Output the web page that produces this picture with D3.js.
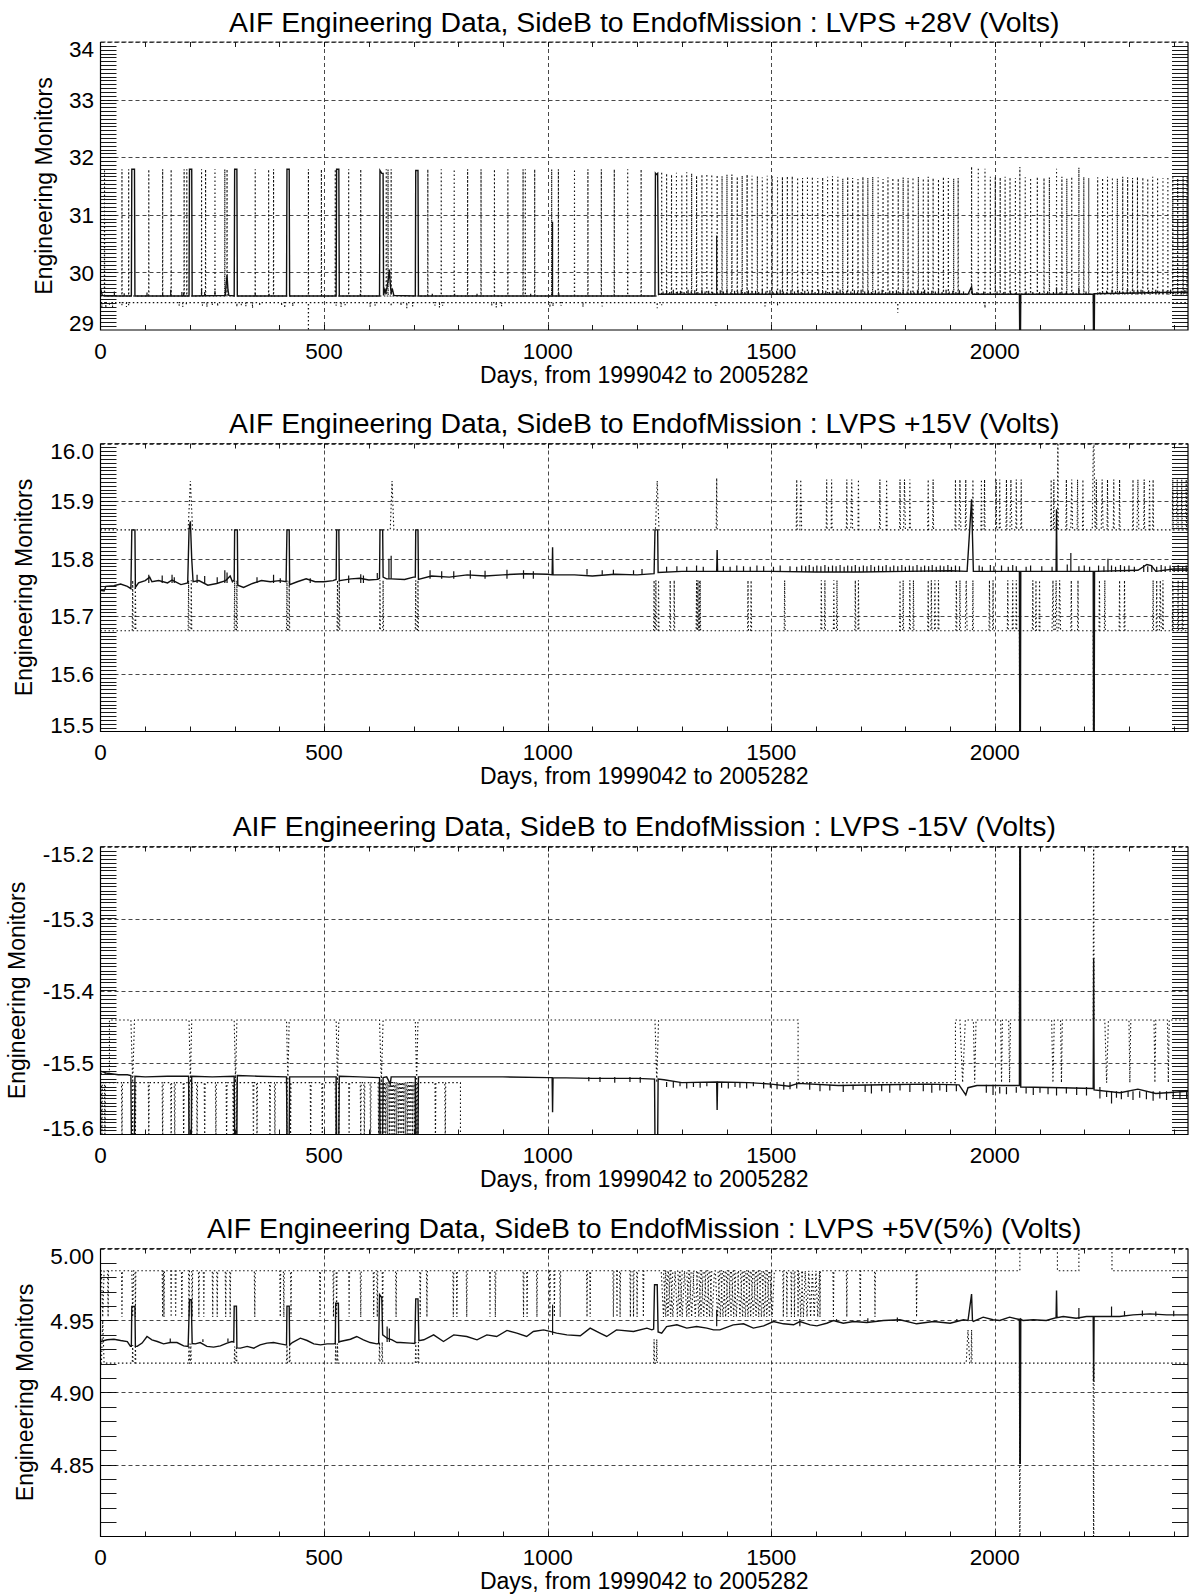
<!DOCTYPE html>
<html><head><meta charset="utf-8">
<script src="https://cdn.jsdelivr.net/npm/d3@7"></script>
<style>
body{margin:0;background:#fff;}
svg text{font-family:"Liberation Sans",Arial,Helvetica,sans-serif;fill:#000;}
</style></head><body>
<svg id="c" width="1193" height="1596"></svg>
<script>
// ---------------- DATA ----------------
const xDomain = [0, 2432];
const xTickVals = [0, 500, 1000, 1500, 2000];
const xLabel = "Days, from 1999042 to 2005282";
const yLabel = "Engineering Monitors";
const titlePrefix = "AIF Engineering Data, SideB to EndofMission : ";
const titles = ["LVPS +28V (Volts)", "LVPS +15V (Volts)", "LVPS -15V (Volts)", "LVPS +5V(5%) (Volts)"];
const yDomains = [[29, 34], [15.5, 16.0], [-15.6, -15.2], [4.80, 5.00]];
const yTickVals = [[29, 30, 31, 32, 33, 34], [15.5, 15.6, 15.7, 15.8, 15.9, 16.0], [-15.6, -15.5, -15.4, -15.3, -15.2], [4.85, 4.90, 4.95, 5.00]];
const yTickLabels = [["29", "30", "31", "32", "33", "34"], ["15.5", "15.6", "15.7", "15.8", "15.9", "16.0"], ["-15.6", "-15.5", "-15.4", "-15.3", "-15.2"], ["4.85", "4.90", "4.95", "5.00"]];
const yMinorCounts = [75, 75, 72, 20];   // number of minor intervals over the full y range

// ---- Panel 1: LVPS +28V ----
const p28Mean = [[0,29.72],[4,29.6],[10,29.59],[69,29.59],[70,31.79],[76,31.79],[77,29.59],[198,29.59],[199,31.79],[204,31.79],[205,29.59],[279,29.6],[281,29.8],[283,29.95],[285,29.7],[287,29.6],[299,29.59],[300,31.79],[305,31.79],[306,29.59],[416,29.59],[417,31.79],[422,31.79],[423,29.59],[527,29.59],[528,31.79],[533,31.79],[534,29.59],[624,29.59],[625,31.77],[629,31.72],[632,31.72],[633,29.6],[636,29.7],[638,29.65],[641,29.75],[644,29.9],[646,30.05],[648,29.8],[650,29.65],[653,29.7],[656,29.6],[704,29.59],[705,31.77],[710,31.77],[711,29.59],[1240,29.59],[1241,31.72],[1243,31.7],[1246,31.72],[1248,29.62],[1940,29.62],[1946,29.72],[1948,29.75],[1950,29.62],[2055,29.62],[2056,28.5],[2057,28.5],[2058,29.62],[2220,29.62],[2221,28.5],[2222,28.5],[2223,29.63],[2432,29.66]];
const p28SpikeBase = [[0,29.59],[1248,29.625]];
const p28Spikes = [[31,29.67],[53,29.64],[104,29.65],[139,29.64],[157,29.7],[182,29.66],[186,29.65],[226,29.72],[233,29.66],[256,29.68],[346,29.64],[377,29.63],[581,29.63],[742,29.63],[792,29.63],[842,29.63],[962,29.63],[1011,30.88],[1025,29.64],[1378,30.64],
[1258,29.67],[1266,29.69],[1273,29.66],[1281,29.7],[1290,29.67],[1297,29.68],[1305,29.66],[1314,29.7],[1321,29.67],[1329,29.69],[1336,29.66],[1345,29.7],[1352,29.67],[1360,29.68],[1369,29.66],[1386,29.69],[1393,29.67],[1401,29.7],[1410,29.66],[1418,29.68],[1425,29.67],[1433,29.7],[1441,29.66],[1449,29.69],[1457,29.67],[1465,29.68],[1472,29.66],[1480,29.7],[1488,29.67],[1497,29.69],[1504,29.66],[1512,29.68],[1520,29.7],[1527,29.67],[1535,29.66],[1544,29.69],[1552,29.67],[1560,29.7],[1567,29.66],[1575,29.68],[1583,29.67],[1591,29.69],[1598,29.66],[1606,29.7],[1615,29.67],[1622,29.68],[1630,29.66],[1638,29.69],[1646,29.67],[1654,29.7],[1661,29.66],[1669,29.68],[1678,29.67],[1686,29.69],[1693,29.66],[1701,29.7],[1709,29.67],[1717,29.68],[1724,29.66],[1733,29.69],[1741,29.67],[1748,29.7],[1756,29.66],[1765,29.68],[1772,29.67],[1780,29.69],[1788,29.66],[1795,29.7],[1804,29.67],[1812,29.68],[1819,29.66],[1827,29.69],[1836,29.67],[1843,29.7],[1851,29.66],[1859,29.68],[1867,29.67],[1874,29.69],[1882,29.66],[1891,29.7],[1898,29.67],[1906,29.68],[1913,29.66],[1921,29.69],[1930,29.67],[1960,29.66],[1975,29.67],[1990,29.66],[2005,29.67],[2020,29.66],[2035,29.68],[2048,29.66],[2070,29.67],[2085,29.66],[2100,29.66],[2118,29.67],[2131,29.66],[2138,29.74],[2146,29.66],[2160,29.67],[2175,29.66],[2188,29.72],[2204,29.67],[2235,29.66],[2250,29.68],[2262,29.7],[2270,29.67],[2279,29.68],[2287,29.66],[2296,29.7],[2303,29.67],[2311,29.69],[2320,29.68],[2327,29.7],[2335,29.67],[2344,29.69],[2352,29.68],[2360,29.7],[2368,29.67],[2376,29.69],[2385,29.68],[2393,29.7],[2400,29.67],[2409,29.69],[2417,29.68],[2425,29.7]];
const p28MaxBase = [[0,29.59],[1248,29.625]];
const p28MaxExc = [[9,31.79],[48,31.79],[63,31.79],[108,31.79],[139,31.79],[158,31.79],[187,31.79],[193,31.79],[226,31.79],[235,31.79],[256,31.79],[278,31.79],[283,31.79],[346,31.79],[376,31.79],[387,31.79],[465,31.79],[494,31.79],[525,31.79],[555,31.79],[582,31.79],[639,31.79],[643,31.79],[650,31.79],[732,31.79],[762,31.79],[791,31.79],[821,31.79],[851,31.79],[881,31.79],[911,31.79],[945,31.79],[950,31.79],[971,31.79],[1009,31.79],[1024,31.79],[1060,31.79],[1090,31.79],[1120,31.79],[1149,31.79],[1179,31.79],[1209,31.79],
[1255,31.75],[1266,31.72],[1277,31.7],[1288,31.73],[1300,31.7],[1311,31.74],[1322,31.72],[1333,31.68],[1345,31.7],[1356,31.71],[1367,31.7],[1379,31.69],[1390,31.67],[1401,31.7],[1412,31.7],[1424,31.66],[1435,31.68],[1446,31.7],[1457,31.68],[1469,31.67],[1480,31.65],[1491,31.68],[1502,31.67],[1514,31.65],[1525,31.66],[1536,31.67],[1547,31.67],[1559,31.65],[1570,31.64],[1581,31.67],[1592,31.66],[1604,31.64],[1615,31.65],[1626,31.66],[1637,31.67],[1649,31.66],[1660,31.63],[1671,31.66],[1682,31.64],[1694,31.62],[1705,31.66],[1716,31.64],[1727,31.66],[1739,31.65],[1750,31.62],[1761,31.65],[1772,31.64],[1784,31.63],[1795,31.65],[1806,31.64],[1817,31.65],[1829,31.66],[1840,31.63],[1851,31.66],[1862,31.64],[1874,31.62],[1885,31.66],[1896,31.64],[1908,31.63],[1918,31.64],[1948,31.84],[1963,31.82],[1978,31.8],[1990,31.66],[2001,31.66],[2012,31.65],[2023,31.66],[2034,31.65],[2046,31.64],[2056,31.83],[2068,31.65],[2080,31.64],[2095,31.66],[2110,31.64],[2122,31.65],[2138,31.8],[2150,31.66],[2161,31.63],[2172,31.66],[2188,31.82],[2199,31.66],[2210,31.64],[2230,31.65],[2241,31.64],[2252,31.66],[2263,31.65],[2274,31.63],[2286,31.66],[2297,31.65],[2308,31.64],[2319,31.66],[2331,31.65],[2342,31.63],[2353,31.66],[2364,31.65],[2376,31.64],[2387,31.66],[2398,31.65],[2409,31.63],[2421,31.66],[2430,31.65]];
const p28MinBase = [[0,29.475]];
const p28MinExc = [[3,29.4],[12,29.38],[20,29.42],[27,29.4],[48,29.43],[58,29.4],[63,29.43],[176,29.42],[184,29.4],[192,29.43],[228,29.42],[238,29.4],[250,29.43],[262,29.41],[305,29.4],[315,29.43],[325,29.41],[340,29.38],[356,29.42],[405,29.42],[412,29.38],[430,29.41],[465,28.85],[527,29.42],[538,29.4],[547,29.43],[603,29.4],[614,29.42],[650,29.41],[672,29.42],[685,29.38],[698,29.41],[748,29.42],[758,29.39],[765,29.42],[875,29.42],[885,29.39],[897,29.41],[1005,29.39],[1012,29.41],[1030,29.42],[1079,29.4],[1122,29.41],[1245,29.38],[1255,29.43],[1376,29.42],[1486,29.41],[1514,29.42],[1783,29.3],[1978,29.38]];

// ---- Panel 2: LVPS +15V ----
const p15Mean = [[0,15.745],[8,15.744],[12,15.752],[30,15.753],[45,15.756],[60,15.752],[68,15.748],[70,15.85],[77,15.85],[78,15.75],[85,15.758],[100,15.762],[110,15.768],[115,15.76],[130,15.762],[150,15.758],[160,15.763],[180,15.755],[195,15.758],[198,15.85],[201,15.865],[204,15.8],[207,15.76],[220,15.762],[240,15.754],[260,15.757],[280,15.762],[290,15.77],[295,15.76],[299,15.763],[300,15.85],[306,15.85],[307,15.754],[320,15.75],[340,15.757],[360,15.762],[380,15.76],[400,15.762],[415,15.76],[417,15.85],[422,15.85],[423,15.755],[440,15.76],[460,15.765],[480,15.76],[500,15.76],[520,15.762],[527,15.764],[528,15.85],[533,15.85],[534,15.762],[560,15.765],[580,15.766],[600,15.763],[620,15.764],[624,15.766],[625,15.85],[631,15.85],[632,15.768],[640,15.765],[650,15.765],[680,15.764],[700,15.768],[704,15.768],[705,15.85],[710,15.85],[711,15.764],[740,15.77],[780,15.768],[820,15.772],[860,15.77],[900,15.772],[950,15.774],[1000,15.773],[1010,15.772],[1011,15.82],[1012,15.772],[1060,15.772],[1100,15.77],[1150,15.773],[1200,15.772],[1238,15.774],[1240,15.85],[1246,15.85],[1247,15.776],[1300,15.778],[1378,15.778],[1379,15.815],[1380,15.778],[1500,15.778],[1600,15.777],[1700,15.777],[1800,15.778],[1900,15.779],[1938,15.778],[1948,15.903],[1952,15.778],[2055,15.778],[2056,15.4],[2057,15.4],[2058,15.778],[2137,15.778],[2138,15.886],[2139,15.778],[2220,15.778],[2221,15.4],[2222,15.4],[2223,15.778],[2320,15.78],[2340,15.79],[2350,15.788],[2360,15.778],[2400,15.782],[2432,15.782]];
const p15SpikeBase = [[0,15.758],[600,15.765],[1000,15.772],[1250,15.777]];
const p15Spikes = [[108,15.772],[138,15.771],[160,15.772],[165,15.768],[216,15.772],[233,15.77],[261,15.768],[278,15.78],[283,15.776],[350,15.768],[387,15.772],[402,15.766],[469,15.766],[555,15.771],[582,15.773],[588,15.771],[619,15.775],[645,15.8],[650,15.805],[737,15.78],[763,15.778],[790,15.778],[827,15.78],[860,15.779],[909,15.781],[946,15.78],[968,15.778],[1088,15.782],[1122,15.78],[1147,15.781],[1192,15.78],[1211,15.782],
[1266,15.786],[1289,15.787],[1311,15.786],[1333,15.788],[1348,15.786],[1393,15.787],[1408,15.786],[1423,15.788],[1438,15.787],[1453,15.786],[1468,15.788],[1483,15.787],[1505,15.786],[1520,15.788],[1542,15.787],[1557,15.786],[1568,15.788],[1577,15.787],[1585,15.789],[1594,15.786],[1602,15.788],[1611,15.787],[1620,15.789],[1628,15.786],[1637,15.788],[1645,15.787],[1654,15.789],[1663,15.786],[1671,15.788],[1680,15.787],[1688,15.789],[1697,15.786],[1706,15.788],[1714,15.787],[1723,15.789],[1731,15.786],[1740,15.788],[1749,15.787],[1757,15.789],[1766,15.786],[1774,15.788],[1783,15.787],[1792,15.789],[1800,15.786],[1809,15.788],[1817,15.787],[1826,15.789],[1835,15.786],[1843,15.788],[1852,15.787],[1860,15.789],[1869,15.786],[1878,15.788],[1886,15.787],[1895,15.789],[1903,15.786],[1912,15.788],[1921,15.787],[1965,15.788],[1972,15.786],[1990,15.789],[1998,15.787],[2015,15.788],[2030,15.786],[2040,15.789],[2048,15.787],[2070,15.786],[2080,15.788],[2105,15.787],[2128,15.786],[2162,15.79],[2170,15.81],[2188,15.787],[2200,15.788],[2212,15.786],[2232,15.788],[2244,15.787],[2253,15.8],[2261,15.788],[2270,15.786],[2281,15.789],[2290,15.787],[2300,15.788],[2312,15.786],[2333,15.789],[2342,15.787],[2351,15.788],[2362,15.786],[2372,15.789],[2381,15.787],[2392,15.788],[2401,15.786],[2410,15.789],[2420,15.787],[2428,15.788]];
const p15MaxBase = [[0,15.85]];
const p15MaxExc = [[201,15.935,5],[652,15.935,4],[1245,15.935,4],[1378,15.94],[1557,15.9375],[1566,15.9375,2],[1624,15.9375],[1635,15.9375],[1669,15.9375],[1680,15.9375,2],[1695,15.9375],[1743,15.9375],[1758,15.9375],[1788,15.9375],[1798,15.9375,2],[1810,15.9375],[1851,15.9375],[1862,15.9375],[1912,15.9375],[1922,15.9375,2],[1935,15.9375],[1951,15.9375],[1970,15.9375],[1977,15.9375],[2003,15.9375],[2011,15.9375],[2026,15.9375],[2036,15.9375,2],[2048,15.9375],[2059,15.9375],[2126,15.9375],[2132,15.9375],[2141,16.05],[2160,15.9375],[2172,15.9375,2],[2185,15.9375],[2197,15.9375],[2221,16.05,3],[2227,15.9375],[2240,15.9375,2],[2252,15.9375],[2266,15.9375],[2279,15.9375],[2309,15.9375],[2320,15.9375,2],[2334,15.9375],[2346,15.9375],[2354,15.9375],[2398,15.9375],[2408,15.9375,2],[2418,15.9375],[2428,15.9375]];
const p15MinBase = [[0,15.675]];
const p15MinExc = [[72,15.7625],[78,15.7625],[197,15.7625],[203,15.7625],[300,15.7625],[305,15.7625],[417,15.7625],[422,15.7625],[530,15.7625],[534,15.7625],[625,15.7625],[632,15.7625],[705,15.7625],[710,15.7625],[1238,15.7625],[1242,15.7625],[1248,15.7625],[1274,15.7625],[1283,15.7625],[1333,15.7625],[1336,15.7625],[1339,15.7625],[1341,15.7625],[1448,15.7625],[1455,15.7625],[1530,15.7625],[1612,15.7625],[1620,15.7625],[1640,15.7625],[1647,15.7625],[1688,15.7625],[1695,15.7625],[1788,15.7625],[1795,15.7625],[1810,15.7625],[1818,15.7625],[1851,15.7625],[1858,15.7625],[1866,15.7625],[1874,15.7625],[1914,15.7625],[1922,15.7625],[1936,15.7625,2],[1951,15.7625],[1988,15.7625],[1996,15.7625],[2029,15.7625],[2040,15.7625],[2048,15.7625],[2056,15.3],[2085,15.7625],[2092,15.7625],[2100,15.7625],[2130,15.7625,2],[2137,15.7625,2],[2145,15.7625,2],[2171,15.7625],[2186,15.7625],[2221,15.3],[2234,15.7625],[2246,15.7625],[2279,15.7625],[2290,15.7625],[2354,15.7625],[2362,15.7625],[2370,15.7625,2],[2376,15.7625],[2398,15.7625],[2410,15.7625],[2420,15.7625]];

// ---- Panel 3: LVPS -15V ----
const m15Mean = [[0,-15.512],[15,-15.515],[40,-15.517],[60,-15.517],[68,-15.518],[69,-15.6],[76,-15.6],[77,-15.519],[100,-15.52],[150,-15.519],[197,-15.519],[198,-15.603],[203,-15.603],[204,-15.519],[250,-15.52],[299,-15.519],[300,-15.603],[305,-15.603],[306,-15.518],[350,-15.519],[416,-15.52],[417,-15.602],[422,-15.602],[423,-15.52],[470,-15.52],[527,-15.52],[528,-15.603],[533,-15.603],[534,-15.519],[580,-15.52],[624,-15.521],[625,-15.6],[631,-15.6],[632,-15.521],[640,-15.52],[648,-15.53],[650,-15.52],[704,-15.52],[705,-15.6],[710,-15.6],[711,-15.52],[800,-15.52],[900,-15.52],[1000,-15.521],[1010,-15.521],[1011,-15.569],[1012,-15.521],[1100,-15.522],[1200,-15.522],[1239,-15.523],[1240,-15.61],[1246,-15.61],[1247,-15.523],[1260,-15.524],[1300,-15.528],[1378,-15.527],[1379,-15.566],[1380,-15.527],[1450,-15.528],[1500,-15.53],[1540,-15.533],[1560,-15.529],[1650,-15.532],[1750,-15.531],[1850,-15.53],[1920,-15.531],[1935,-15.545],[1940,-15.535],[1960,-15.532],[2055,-15.532],[2056,-15.1],[2057,-15.1],[2058,-15.534],[2150,-15.535],[2220,-15.536],[2221,-15.355],[2222,-15.538],[2280,-15.542],[2320,-15.537],[2360,-15.543],[2432,-15.54]];
const m15SpikeBase = [[0,-15.518],[700,-15.52],[1250,-15.527],[1600,-15.531],[2000,-15.534],[2250,-15.54]];
const m15Spikes = [[1092,-15.526],[1117,-15.527],[1150,-15.528],[1184,-15.527],[1207,-15.528],[1266,-15.534],[1281,-15.535],[1296,-15.533],[1311,-15.536],[1326,-15.534],[1341,-15.535],[1356,-15.533],[1389,-15.535],[1404,-15.536],[1419,-15.534],[1430,-15.535],[1445,-15.536],[1460,-15.533],[1483,-15.536],[1498,-15.535],[1513,-15.537],[1528,-15.538],[1542,-15.537],[1557,-15.536],[1586,-15.538],[1609,-15.54],[1631,-15.539],[1661,-15.541],[1683,-15.538],[1710,-15.541],[1724,-15.543],[1747,-15.54],[1765,-15.542],[1788,-15.539],[1810,-15.541],[1840,-15.54],[1859,-15.542],[1877,-15.539],[1892,-15.541],[1914,-15.54],[1981,-15.542],[1996,-15.545],[2011,-15.543],[2026,-15.544],[2048,-15.542],[2070,-15.543],[2086,-15.545],[2101,-15.542],[2119,-15.544],[2138,-15.546],[2160,-15.543],[2183,-15.545],[2205,-15.546],[2235,-15.55],[2250,-15.548],[2261,-15.557],[2272,-15.549],[2283,-15.551],[2298,-15.548],[2309,-15.552],[2324,-15.549],[2339,-15.551],[2354,-15.553],[2369,-15.55],[2384,-15.552],[2399,-15.549],[2414,-15.551],[2429,-15.55]];
const m15MaxBase = [[0,-15.515],[20,-15.441],[1560,-15.528],[1912,-15.441]];
const m15MaxExc = [[72,-15.528,4],[201,-15.528,3],[302,-15.528,3],[419,-15.528,3],[530,-15.528,3],[628,-15.528,4],[707,-15.528,3],[1244,-15.528,4],[1928,-15.528,6],[1955,-15.528,3],[2015,-15.528,2],[2033,-15.528,2],[2056,-15.15],[2130,-15.528,3],[2149,-15.528,2],[2221,-15.15],[2250,-15.528,4],[2302,-15.528,2],[2358,-15.528,2],[2388,-15.528,2]];
const m15MinBase = [[0,-15.528],[805,-15.616]];
const m15MinExc = [[3,-15.616],[10,-15.616],[48,-15.616],[72,-15.616],[78,-15.616],[108,-15.616],[139,-15.616],[158,-15.616],[166,-15.616],[186,-15.616],[198,-15.616],[204,-15.616],[216,-15.616],[233,-15.616],[258,-15.616],[282,-15.616],[297,-15.616],[304,-15.616],[342,-15.616],[350,-15.616],[379,-15.616],[390,-15.616],[417,-15.616],[425,-15.616],[470,-15.616],[496,-15.616],[526,-15.616],[533,-15.616],[556,-15.616],[582,-15.616],[590,-15.616],[604,-15.616],[622,-15.616],[626,-15.616],[630,-15.616],[634,-15.616],[638,-15.616],[642,-15.616],[646,-15.616],[650,-15.616],[654,-15.616],[658,-15.616],[662,-15.616],[666,-15.616],[670,-15.616],[674,-15.616],[678,-15.616],[682,-15.616],[686,-15.616],[690,-15.616],[694,-15.616],[698,-15.616],[702,-15.616],[706,-15.616],[710,-15.616],[749,-15.616],[771,-15.616]];

// ---- Panel 4: LVPS +5V(5%) ----
const p5Mean = [[0,4.9354],[15,4.9366],[30,4.937],[45,4.9361],[60,4.9354],[67,4.932],[69,4.932],[70,4.9597],[77,4.9597],[78,4.932],[82,4.932],[93,4.9343],[104,4.9389],[115,4.9366],[127,4.9354],[141,4.9338],[156,4.9347],[171,4.9347],[186,4.9324],[196,4.932],[199,4.9644],[203,4.9644],[205,4.934],[212,4.9338],[223,4.9347],[238,4.932],[253,4.9315],[268,4.9324],[283,4.9343],[294,4.9354],[298,4.935],[299,4.96],[304,4.96],[305,4.931],[313,4.9308],[328,4.932],[343,4.9308],[357,4.9331],[372,4.9343],[387,4.9347],[402,4.9338],[414,4.9331],[416,4.933],[417,4.96],[422,4.96],[423,4.933],[429,4.9347],[447,4.9377],[462,4.9361],[477,4.9338],[492,4.9331],[507,4.9338],[521,4.9338],[525,4.934],[526,4.962],[532,4.962],[533,4.935],[536,4.9354],[559,4.937],[573,4.9389],[588,4.9366],[603,4.9347],[618,4.9338],[622,4.934],[624,4.968],[629,4.966],[631,4.94],[641,4.9377],[652,4.9366],[663,4.9347],[670,4.9347],[693,4.9343],[703,4.934],[705,4.965],[710,4.965],[712,4.936],[723,4.9366],[745,4.94],[767,4.9354],[790,4.94],[819,4.9389],[842,4.9366],[864,4.94],[886,4.9389],[909,4.9431],[931,4.9412],[953,4.9389],[968,4.9424],[991,4.9435],[1005,4.9424],[1020,4.9412],[1043,4.94],[1073,4.9394],[1095,4.9447],[1117,4.9412],[1132,4.9389],[1154,4.9435],[1192,4.9424],[1222,4.9447],[1233,4.9435],[1237,4.944],[1239,4.9748],[1245,4.9748],[1247,4.942],[1255,4.9412],[1266,4.9458],[1289,4.947],[1311,4.9447],[1333,4.9458],[1356,4.9447],[1371,4.9435],[1385,4.9435],[1415,4.947],[1438,4.9477],[1460,4.9447],[1483,4.9463],[1505,4.9493],[1527,4.9477],[1550,4.947],[1564,4.9493],[1587,4.947],[1602,4.9463],[1624,4.9481],[1639,4.95],[1661,4.9481],[1684,4.9493],[1714,4.9486],[1751,4.95],[1788,4.9505],[1825,4.9477],[1863,4.9493],[1900,4.9481],[1930,4.9505],[1940,4.95],[1948,4.9683],[1950,4.95],[1952,4.9493],[1974,4.9523],[1996,4.9505],[2011,4.95],[2033,4.9523],[2052,4.9509],[2055,4.951],[2056,4.8509],[2057,4.8509],[2058,4.951],[2063,4.95],[2086,4.9505],[2115,4.95],[2137,4.952],[2138,4.9708],[2139,4.952],[2153,4.9528],[2182,4.9516],[2205,4.9528],[2220,4.9528],[2221,4.9076],[2222,4.9528],[2235,4.9528],[2279,4.9528],[2309,4.9539],[2347,4.9546],[2384,4.9539],[2432,4.9539]];
const p5SpikeBase = [[0,4.935],[700,4.94],[1250,4.946],[1600,4.949],[2000,4.951],[2250,4.953]];
const p5Spikes = [[156,4.9375],[229,4.937],[285,4.9375],[641,4.9458],[646,4.9445],[1011,4.961],[1378,4.9574],[1564,4.951],[1646,4.951],[1716,4.9515],[1782,4.952],[1915,4.951],[2188,4.9586],[2261,4.9597],[2290,4.9565],[2330,4.957],[2360,4.9562],[2400,4.9568]];
const p5MaxBase = [[0,4.9845],[2056,5.017],[2140,4.9845],[2188,5.017],[2262,4.9845]];
const p5MaxExc = [[5,4.9524,3],[17,4.9524],[48,4.9524],[72,4.9524,2],[78,4.9524],[139,4.9524],[142,4.9524],[158,4.9524],[168,4.9524],[182,4.9524],[198,4.9524],[205,4.9524],[220,4.9524],[231,4.9524],[251,4.9524],[261,4.9524],[280,4.9524],[290,4.9524],[345,4.9524],[402,4.9524],[410,4.9524],[426,4.9524],[491,4.9524],[521,4.9524],[528,4.9524],[556,4.9524],[582,4.9524],[611,4.9524],[619,4.9524],[631,4.9524],[661,4.9524],[715,4.9524],[730,4.9524],[789,4.9524],[797,4.9524],[819,4.9524],[871,4.9524],[883,4.9524],[946,4.9524],[954,4.9524],[976,4.9524],[1005,4.9524],[1015,4.9524],[1028,4.9524],[1088,4.9524],[1095,4.9524],[1147,4.9524],[1155,4.9524],[1162,4.9524],[1185,4.9524],[1192,4.9524],[1200,4.9524],[1214,4.9524],
[1259,4.9524,5],[1264,4.9524,5],[1269,4.9524,5],[1275,4.9524,5],[1280,4.9524,5],[1290,4.9524,5],[1296,4.9524,5],[1301,4.9524,5],[1311,4.9524,5],[1316,4.9524,5],[1322,4.9524,5],[1330,4.9524,5],[1338,4.9524,5],[1343,4.9524,5],[1349,4.9524,5],[1356,4.9524,5],[1362,4.9524,5],[1368,4.9524,5],[1380,4.9524,5],[1386,4.9524,5],[1392,4.9524,5],[1398,4.9524,5],[1404,4.9524,5],[1410,4.9524,5],[1416,4.9524,5],[1422,4.9524,5],[1430,4.9524,5],[1436,4.9524,5],[1442,4.9524,5],[1448,4.9524,5],[1454,4.9524,5],[1460,4.9524,5],[1466,4.9524,5],[1472,4.9524,5],[1478,4.9524,5],[1484,4.9524,5],[1490,4.9524,5],[1496,4.9524,5],[1502,4.9524,5],[1527,4.9524],[1535,4.9524],[1545,4.9524],[1552,4.9524],[1560,4.9524],[1566,4.9524,4],[1572,4.9524,4],[1580,4.9524,4],[1588,4.9524,4],[1596,4.9524,4],[1604,4.9524,4],[1609,4.9524],[1639,4.9524],[1669,4.9524],[1699,4.9524],[1732,4.9524],[1825,4.9524]];
const p5MinBase = [[0,4.9204]];
const p5MinExc = [[5,4.95,3],[72,4.933],[78,4.933],[198,4.934],[202,4.934],[300,4.932],[304,4.932],[417,4.933],[423,4.933],[526,4.934],[530,4.934],[624,4.935],[630,4.935],[705,4.935],[711,4.935],[1238,4.937],[1244,4.937],[1940,4.9435,4],[1948,4.9435],[2056,4.75],[2221,4.75]];

// ---------------- RENDER ----------------
const panels = [
  {title: titles[0], mean: p28Mean, spikeBase: p28SpikeBase, spikes: p28Spikes, maxBase: p28MaxBase, maxExc: p28MaxExc, minBase: p28MinBase, minExc: p28MinExc, hw: 0.3},
  {title: titles[1], mean: p15Mean, spikeBase: p15SpikeBase, spikes: p15Spikes, maxBase: p15MaxBase, maxExc: p15MaxExc, minBase: p15MinBase, minExc: p15MinExc, hw: 1},
  {title: titles[2], mean: m15Mean, spikeBase: m15SpikeBase, spikes: m15Spikes, maxBase: m15MaxBase, maxExc: m15MaxExc, minBase: m15MinBase, minExc: m15MinExc, hw: 1},
  {title: titles[3], mean: p5Mean, spikeBase: p5SpikeBase, spikes: p5Spikes, maxBase: p5MaxBase, maxExc: p5MaxExc, minBase: p5MinBase, minExc: p5MinExc, hw: 1}
];

const svg = d3.select("#c");
const L = 100.5, R = 1188, H = 288;
const tops = [42, 443.5, 846.5, 1248.5];
const yLabelX = [52, 32, 24.5, 32.5];
const x = d3.scaleLinear().domain(xDomain).range([L, R]);

function levelAt(base, d) { let l = base[0][1]; for (const b of base) { if (b[0] <= d) l = b[1]; } return l; }
function buildTrace(base, exc, hwDef) {
  const ev = [];
  base.forEach((b, k) => { if (k > 0) ev.push({d: b[0], step: true, from: base[k-1][1], to: b[1]}); });
  exc.forEach(e => ev.push({d: e[0], v: e[1], hw: e[2] || hwDef}));
  ev.sort((a, b) => a.d - b.d);
  const pts = [[xDomain[0], levelAt(base, xDomain[0])]];
  ev.forEach(e => {
    if (e.step) pts.push([e.d, e.from], [e.d, e.to]);
    else { const l = levelAt(base, e.d); pts.push([e.d - e.hw, l], [e.d, e.v], [e.d + e.hw, l]); }
  });
  pts.push([xDomain[1], levelAt(base, xDomain[1])]);
  return pts;
}

panels.forEach((p, i) => {
  const top = tops[i], bot = top + H;
  const yd = yDomains[i];
  const y = d3.scaleLinear().domain(yd).range([bot, top]);
  const g = svg.append("g");
  const cid = "clip" + i;
  svg.append("clipPath").attr("id", cid).append("rect").attr("x", L).attr("y", top).attr("width", R - L).attr("height", H);

  // grid lines
  const grid = g.append("g").attr("stroke", "#333").attr("stroke-width", 0.9).attr("stroke-dasharray", "4,3").attr("fill", "none");
  yTickVals[i].forEach(v => {
    const yy = Math.round(y(v)) + 0.5;
    if (Math.abs(yy - bot) < 2) return;
    grid.append("line").attr("x1", L).attr("x2", R).attr("y1", yy).attr("y2", yy);
  });
  xTickVals.forEach(v => {
    if (v === 0) return;
    const xx = Math.round(x(v)) + 0.5;
    grid.append("line").attr("x1", xx).attr("x2", xx).attr("y1", top).attr("y2", bot);
  });

  // minor ticks
  const tk = g.append("g").attr("stroke", "#000").attr("stroke-width", 0.9);
  d3.range(100, xDomain[1], 100).forEach(v => {
    const xx = Math.round(x(v)) + 0.5;
    tk.append("line").attr("x1", xx).attr("x2", xx).attr("y1", bot).attr("y2", bot - 5);
    tk.append("line").attr("x1", xx).attr("x2", xx).attr("y1", top).attr("y2", top + 5);
  });
  const n = yMinorCounts[i];
  d3.range(1, n).forEach(k => {
    const yy = Math.round(y(yd[0] + (yd[1] - yd[0]) * k / n)) + 0.5;
    tk.append("line").attr("x1", L).attr("x2", L + 16).attr("y1", yy).attr("y2", yy);
    tk.append("line").attr("x1", R - 16).attr("x2", R).attr("y1", yy).attr("y2", yy);
  });

  const plot = g.append("g").attr("clip-path", `url(#${cid})`);
  const line = d3.line().x(d => x(d[0])).y(d => y(d[1]));
  // dotted max / min traces
  [buildTrace(p.maxBase, p.maxExc, p.hw), buildTrace(p.minBase, p.minExc, p.hw)].forEach(pts => {
    plot.append("path").attr("d", line(pts)).attr("fill", "none").attr("stroke", "#111").attr("stroke-width", 1.1).attr("stroke-dasharray", "1.5,2.5");
  });
  // mean line
  plot.append("path").attr("d", line(p.mean)).attr("fill", "none").attr("stroke", "#111").attr("stroke-width", 1.4).attr("stroke-linejoin", "miter");
  // spikes on mean
  p.spikes.forEach(s => {
    const xx = x(s[0]);
    plot.append("line").attr("x1", xx).attr("x2", xx).attr("y1", y(levelAt(p.spikeBase, s[0]))).attr("y2", y(s[1])).attr("stroke", "#111").attr("stroke-width", 1.2);
  });

  // frame
  g.append("path").attr("d", `M${L},${top}V${bot}H${R}V${top}`).attr("fill", "none").attr("stroke", "#000").attr("stroke-width", 1.2);
  g.append("line").attr("x1", L).attr("x2", R).attr("y1", top).attr("y2", top).attr("stroke", "#222").attr("stroke-width", 1.1).attr("stroke-dasharray", "5,2");

  // y tick labels
  yTickVals[i].forEach((v, k) => {
    let yy = y(v);
    if (Math.abs(yy - top) < 1) yy += 7;
    if (Math.abs(yy - bot) < 1) yy -= 7;
    g.append("text").attr("x", 94).attr("y", yy).attr("dy", "0.36em").attr("text-anchor", "end").attr("font-size", 22.5).text(yTickLabels[i][k]);
  });
  // x tick labels
  xTickVals.forEach(v => {
    g.append("text").attr("x", x(v)).attr("y", bot + 28.5).attr("text-anchor", "middle").attr("font-size", 22.5).text(String(v));
  });
  // axis titles
  g.append("text").attr("x", (L + R) / 2).attr("y", bot + 52.5).attr("text-anchor", "middle").attr("font-size", 23).text(xLabel);
  g.append("text").attr("transform", `translate(${yLabelX[i]},${(top + bot) / 2}) rotate(-90)`).attr("text-anchor", "middle").attr("font-size", 23).text(yLabel);
  g.append("text").attr("x", (L + R) / 2).attr("y", top - 10.5).attr("text-anchor", "middle").attr("font-size", 28.4).text(titlePrefix + p.title);
});
</script>
</body></html>
